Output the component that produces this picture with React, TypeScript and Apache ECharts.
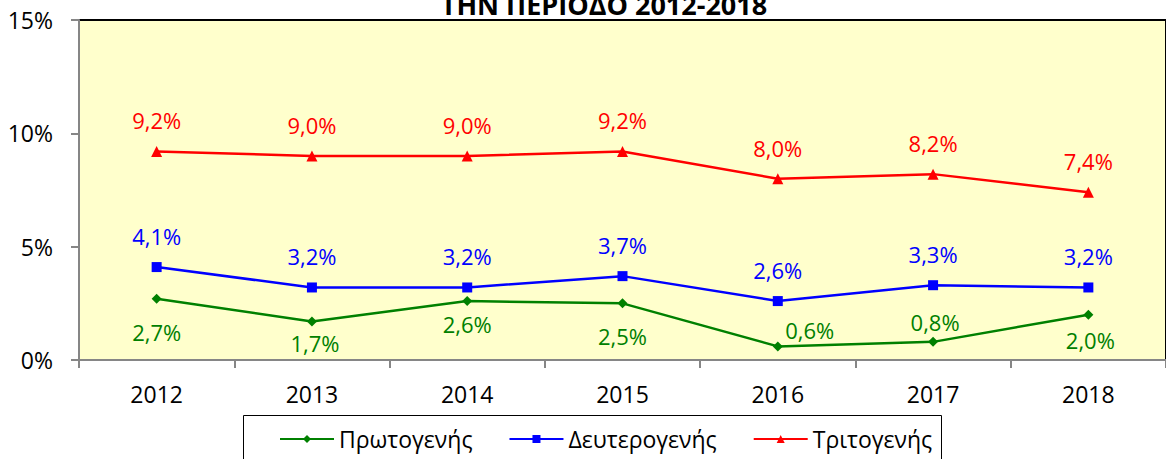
import React, { useEffect, useRef } from "react";
import * as echarts from "echarts";

const years = ["2012", "2013", "2014", "2015", "2016", "2017", "2018"];
const primary = [2.7, 1.7, 2.6, 2.5, 0.6, 0.8, 2.0];
const secondary = [4.1, 3.2, 3.2, 3.7, 2.6, 3.3, 3.2];
const tertiary = [9.2, 9.0, 9.0, 9.2, 8.0, 8.2, 7.4];
const seriesNames = ["Πρωτογενής", "Δευτερογενής", "Τριτογενής"];
const yTicks = [0, 5, 10, 15];

// label placement (offset from the point, px)
const primaryLabelOffsets = [
  [0, 33], [3, 22], [0, 23], [0, 33], [32, -16], [2, -20], [2, 25],
];

const FONT = "'Open Sans', 'Noto Sans', sans-serif";
const fmt = (v: number) => v.toFixed(1).replace(".", ",") + "%";

export default function App() {
  const ref = useRef<HTMLDivElement>(null);
  useEffect(() => {
    if (!ref.current) return;
    const chart = echarts.init(ref.current, undefined, { renderer: "svg" });
    const mkLabel = (color: string) => ({
      show: true,
      position: "inside",
      offset: [0, -31],
      color,
      fontSize: 22,
      fontFamily: FONT,
      formatter: (p: any) => fmt(p.value),
    });
    chart.setOption({
      animation: false,
      textStyle: { fontFamily: FONT },
      grid: {
        left: 79,
        top: 20,
        right: -12,
        bottom: 99,
        show: true,
        backgroundColor: "#FFFFCC",
        borderColor: "#000",
        borderWidth: 2,
      },
      graphic: [
        {
          type: "text",
          x: 604,
          y: 4,
          style: {
            text: "ΤΗΝ ΠΕΡΙΟΔΟ 2012-2018",
            fontFamily: FONT,
            fontWeight: "bold",
            fontSize: 27,
            fill: "#000",
            align: "center",
            verticalAlign: "middle",
          },
        },
        {
          type: "rect",
          shape: { x: 243.5, y: 415.5, width: 698, height: 60 },
          style: { fill: "none", stroke: "#000", lineWidth: 1 },
          z: 10,
        },
      ],
      legend: {
        left: 279,
        top: 427,
        padding: 0,
        itemWidth: 54,
        itemHeight: 10,
        itemGap: 36,
        data: seriesNames,
        textStyle: { fontSize: 23, fontFamily: FONT, color: "#000", lineHeight: 24 },
      },
      xAxis: {
        type: "category",
        data: years,
        boundaryGap: true,
        axisLine: { lineStyle: { color: "#868686", width: 2 } },
        axisTick: { show: true, length: 8, lineStyle: { color: "#868686", width: 2 } },
        axisLabel: { color: "#000", fontSize: 23, fontFamily: FONT, margin: 22 },
        splitLine: { show: false },
      },
      yAxis: {
        type: "value",
        min: yTicks[0],
        max: yTicks[yTicks.length - 1],
        interval: yTicks[1] - yTicks[0],
        axisLine: { show: true, lineStyle: { color: "#868686", width: 2 } },
        axisTick: { show: true, length: 8, lineStyle: { color: "#868686", width: 2 } },
        axisLabel: {
          color: "#000",
          fontSize: 23,
          fontFamily: FONT,
          margin: 26,
          formatter: "{value}%",
        },
        splitLine: { show: false },
      },
      series: [
        {
          name: seriesNames[0],
          type: "line",
          data: primary.map((v, i) => ({
            value: v,
            label: { offset: primaryLabelOffsets[i] },
          })),
          symbol: "diamond",
          symbolSize: 10,
          itemStyle: { color: "#008000" },
          lineStyle: { color: "#008000", width: 2.5 },
          label: mkLabel("#008000"),
        },
        {
          name: seriesNames[1],
          type: "line",
          data: secondary,
          symbol: "rect",
          symbolSize: 10,
          itemStyle: { color: "#0000FF" },
          lineStyle: { color: "#0000FF", width: 2.5 },
          label: mkLabel("#0000FF"),
        },
        {
          name: seriesNames[2],
          type: "line",
          data: tertiary,
          symbol: "triangle",
          symbolSize: 11,
          itemStyle: { color: "#FF0000" },
          lineStyle: { color: "#FF0000", width: 2.5 },
          label: mkLabel("#FF0000"),
        },
      ],
    });
    return () => chart.dispose();
  }, []);
  return (
    <div
      ref={ref}
      style={{ position: "absolute", left: 0, top: 0, width: 1166, height: 459 }}
    />
  );
}
